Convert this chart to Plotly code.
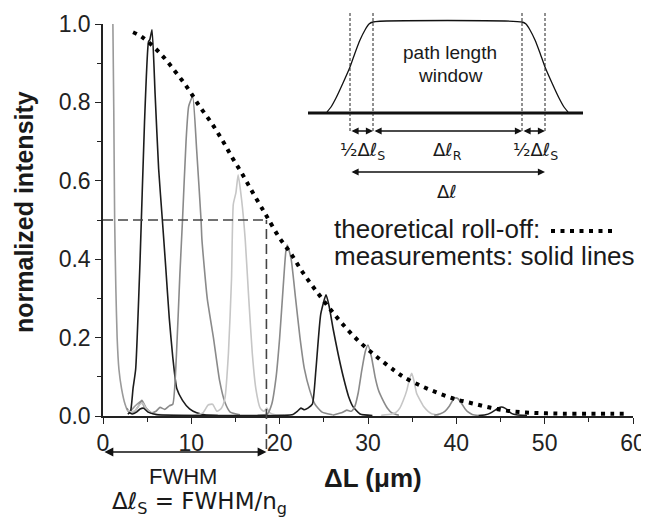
import plotly.graph_objects as go

# ---------------- data ----------------
rolloff_x = [3.4, 4.4, 6.4, 8.1, 9.6, 10.9, 12.3, 13.55, 14.64, 15.8, 16.95, 18.1, 18.7, 19.9,
             21.25, 22.56, 23.9, 25.5, 27.1, 29.0, 31.05, 33.0, 34.0, 36.0, 38.0, 39.9, 41.85,
             43.9, 45.9, 47.9, 49.85, 52.0, 55.0, 57.5, 59.3]
rolloff_y = [0.979, 0.967, 0.927, 0.881, 0.836, 0.791, 0.747, 0.702, 0.659, 0.616, 0.570, 0.526,
             0.503, 0.457, 0.415, 0.368, 0.326, 0.279, 0.235, 0.190, 0.150, 0.116, 0.100, 0.077,
             0.058, 0.043, 0.032, 0.021, 0.013, 0.009, 0.007, 0.006, 0.006, 0.006, 0.006]

peak0_x = [1.12, 1.22, 1.32, 1.45, 1.6, 1.8, 2.1, 2.5, 2.85, 3.2, 3.6, 4.0, 4.35, 4.7, 5.2, 6.0, 7.5]
peak0_y = [1.0, 0.78, 0.5, 0.33, 0.2, 0.12, 0.07, 0.03, 0.012, 0.015, 0.025, 0.033, 0.038, 0.022, 0.01, 0.004, 0.002]

peak1_x = [2.8, 3.1, 3.4, 3.7, 4.2, 4.7, 5.15, 5.3, 5.55, 5.9, 6.3, 6.72, 7.1, 7.5, 7.9, 8.35, 9.0, 9.8, 10.6, 11.5, 13.0]
peak1_y = [0.005, 0.01, 0.07, 0.12, 0.4, 0.75, 0.955, 0.96, 0.985, 0.82, 0.63, 0.5, 0.38, 0.25, 0.15, 0.07, 0.04, 0.018, 0.008, 0.003, 0.001]

peak2_x = [2.7, 3.1, 3.6, 4.0, 4.4, 4.9, 5.5, 6.0, 6.45, 7.0, 7.5, 7.9, 8.3, 8.7, 9.0, 9.4, 9.7,
           10.15, 10.6, 11.1, 11.2, 11.8, 12.5, 13.2, 13.8, 14.4, 15.5]
peak2_y = [0.02, 0.008, 0.012, 0.025, 0.04, 0.02, 0.008, 0.012, 0.022, 0.017, 0.026, 0.03, 0.15, 0.36,
           0.5, 0.7, 0.79, 0.815, 0.68, 0.5, 0.45, 0.3, 0.2, 0.09, 0.035, 0.01, 0.003]

peak3_x = [2.8, 3.2, 3.7, 4.1, 4.5, 5.0, 5.8, 7.0, 9.0, 10.5, 11.3, 11.9, 12.4, 12.9, 13.4, 13.8, 14.2,
           14.55, 14.75, 15.05, 15.3, 15.7, 16.1, 16.5, 16.9, 17.3, 17.8, 18.2, 18.55, 18.9, 19.5, 20.5]
peak3_y = [0.015, 0.01, 0.015, 0.028, 0.033, 0.015, 0.005, 0.003, 0.002, 0.003, 0.008, 0.028, 0.03, 0.012,
           0.02, 0.045, 0.16, 0.35, 0.54, 0.57, 0.615, 0.55, 0.45, 0.3, 0.16, 0.07, 0.02, 0.012, 0.02, 0.008, 0.003, 0.001]

peak4_x = [17.5, 18.6, 19.1, 19.6, 20.0, 20.4, 20.7, 20.87, 21.3, 21.8, 22.3, 22.8, 23.4, 24.0, 24.8, 26.0]
peak4_y = [0.002, 0.005, 0.03, 0.1, 0.2, 0.33, 0.42, 0.436, 0.4, 0.3, 0.2, 0.12, 0.066, 0.03, 0.01, 0.003]

peak5_x = [2.9, 3.3, 3.8, 4.2, 4.6, 5.1, 6.0, 8.0, 20.5, 21.5, 22.0, 22.4, 22.8, 23.2, 23.7, 24.1,
           24.65, 25.25, 25.6, 26.07, 26.6, 27.2, 27.8, 28.3, 29.1, 30.5]
peak5_y = [0.01, 0.005, 0.01, 0.018, 0.02, 0.01, 0.004, 0.002, 0.002, 0.004, 0.012, 0.02, 0.016, 0.02,
           0.03, 0.117, 0.26, 0.309, 0.28, 0.22, 0.16, 0.1, 0.05, 0.024, 0.005, 0.001]

peak6_x = [26.0, 27.0, 27.6, 28.1, 28.5, 28.9, 29.3, 29.7, 30.0, 30.4, 30.8, 31.2, 31.7, 32.2, 32.7, 33.5]
peak6_y = [0.002, 0.008, 0.015, 0.012, 0.024, 0.06, 0.117, 0.165, 0.181, 0.15, 0.1, 0.065, 0.04, 0.02, 0.008, 0.002]

peak7_x = [31.5, 32.7, 33.2, 33.6, 34.0, 34.4, 34.7, 34.95, 35.2, 35.5, 35.9, 36.3, 36.8, 37.2, 38.0]
peak7_y = [0.002, 0.005, 0.01, 0.02, 0.04, 0.066, 0.095, 0.109, 0.09, 0.058, 0.04, 0.024, 0.012, 0.006, 0.002]

peak8_x = [37.5, 38.2, 38.7, 39.2, 39.6, 39.9, 40.2, 40.6, 41.0, 41.4, 41.8, 42.5]
peak8_y = [0.002, 0.006, 0.012, 0.025, 0.04, 0.046, 0.044, 0.032, 0.018, 0.009, 0.004, 0.001]

peak9_x = [42.5, 43.3, 43.9, 44.4, 44.8, 45.1, 45.5, 45.9, 46.3, 46.8, 48.0]
peak9_y = [0.001, 0.003, 0.008, 0.015, 0.021, 0.023, 0.02, 0.013, 0.006, 0.003, 0.001]

peak_colors = ["#9a9a9a", "#1c1c1c", "#8a8a8a", "#c6c6c6", "#8a8a8a",
               "#1c1c1c", "#8a8a8a", "#c6c6c6", "#8a8a8a", "#1c1c1c"]

fwhm_x = 18.5
half_level = 0.5

x_ticks = [0, 10, 20, 30, 40, 50, 60]
y_ticks = [0.0, 0.2, 0.4, 0.6, 0.8, 1.0]

# inset schematic (path-length window), schematic units
win_x = [327, 331, 336, 343, 350, 355, 360, 365, 369, 373, 522, 526, 530, 535, 540, 545, 552, 559, 564, 568]
win_y = [112, 107, 98, 83, 67, 53, 40, 30, 24, 22, 22, 24, 30, 40, 53, 67, 83, 98, 107, 112]
base_x = [308, 583]
base_y = [113, 113]
marks_x = [350, 373, 522, 545]

# ---------------- layout geometry ----------------
OFF = 8                      # page body margin
W, H = 649 - OFF, 520 - OFF
ML, MR, MT, MB = 95, 16, 0, 104
PW, PH = W - ML - MR, H - MT - MB


def py(p):  # reference pixel row -> paper y
    return (H - MB - (p - OFF)) / PH


def px(p):  # reference pixel col -> paper x
    return (p - OFF - ML) / PW


main_top = py(24)
DOTS = "4px,5.5px"

fig = go.Figure()

peaks = [(peak0_x, peak0_y), (peak1_x, peak1_y), (peak2_x, peak2_y), (peak3_x, peak3_y),
         (peak4_x, peak4_y), (peak5_x, peak5_y), (peak6_x, peak6_y), (peak7_x, peak7_y),
         (peak8_x, peak8_y), (peak9_x, peak9_y)]
for (xs, ys), c in zip(peaks, peak_colors):
    fig.add_trace(go.Scatter(x=xs, y=ys, mode="lines",
                             line=dict(color=c, width=1.6, shape="spline", smoothing=0.5),
                             showlegend=False, hoverinfo="skip"))

fig.add_trace(go.Scatter(x=rolloff_x, y=rolloff_y, mode="lines",
                         line=dict(color="#000000", width=4, dash=DOTS, shape="spline"),
                         showlegend=False, hoverinfo="skip"))

# inset traces
fig.add_trace(go.Scatter(x=win_x, y=win_y, mode="lines", xaxis="x2", yaxis="y2",
                         line=dict(color="#111", width=1.3, shape="spline", smoothing=0.6),
                         showlegend=False, hoverinfo="skip"))
fig.add_trace(go.Scatter(x=base_x, y=base_y, mode="lines", xaxis="x2", yaxis="y2",
                         line=dict(color="#111", width=3.2), showlegend=False, hoverinfo="skip"))

shapes = []
for mx in marks_x:
    shapes.append(dict(type="line", xref="x2", yref="y2", x0=mx, x1=mx, y0=13, y1=131,
                       line=dict(color="#222", width=1, dash="3px,2px")))
shapes.append(dict(type="line", xref="x", yref="y", x0=0, x1=fwhm_x, y0=half_level, y1=half_level,
                   line=dict(color="#444", width=1.6, dash="10px,5px")))
shapes.append(dict(type="line", xref="x", yref="paper", x0=fwhm_x, x1=fwhm_x,
                   y0=py(449), y1=half_level * main_top,
                   line=dict(color="#444", width=1.6, dash="10px,5px")))
# dotted-line key after "theoretical roll-off:"
shapes.append(dict(type="line", xref="paper", yref="paper", x0=px(551), x1=px(614),
                   y0=py(231), y1=py(231), line=dict(color="#000", width=4, dash=DOTS)))

ann = []
font_main = "Liberation Sans, Arial, sans-serif"
font_sym = "DejaVu Sans, sans-serif"


def arrow2(x_head, x_tail, y, xr, yr):
    return dict(x=x_head, y=y, ax=x_tail, ay=y, xref=xr, yref=yr, axref=xr, ayref=yr,
                showarrow=True, arrowhead=2, startarrowhead=2, arrowside="end+start",
                arrowsize=1.1, arrowwidth=1.3, arrowcolor="#111", text="", standoff=0, startstandoff=0)


ann.append(arrow2(marks_x[1], marks_x[0], 131, "x2", "y2"))
ann.append(arrow2(marks_x[2], marks_x[1], 131, "x2", "y2"))
ann.append(arrow2(marks_x[3], marks_x[2], 131, "x2", "y2"))
ann.append(arrow2(marks_x[3], marks_x[0], 172, "x2", "y2"))


def txt(x, y, s, size, xr, yr, family=font_main, xanchor="center", angle=0, bold=False):
    return dict(x=x, y=y, xref=xr, yref=yr, text=("<b>%s</b>" % s) if bold else s, showarrow=False,
                xanchor=xanchor, yanchor="middle", textangle=angle,
                font=dict(family=family, size=size, color="#1a1a1a"))


ann.append(txt(450, 52, "path length", 19, "x2", "y2"))
ann.append(txt(450, 75, "window", 19, "x2", "y2"))
ann.append(txt(362, 151, "½Δℓ<sub>S</sub>", 18, "x2", "y2", family=font_sym))
ann.append(txt(447, 151, "Δℓ<sub>R</sub>", 18, "x2", "y2", family=font_sym))
ann.append(txt(535, 151, "½Δℓ<sub>S</sub>", 18, "x2", "y2", family=font_sym))
ann.append(txt(447, 191, "Δℓ", 18, "x2", "y2", family=font_sym))

ann.append(txt(px(332), py(229), "theoretical roll-off:", 26, "paper", "paper", xanchor="left"))
ann.append(txt(px(332), py(256), "measurements: solid lines", 26, "paper", "paper", xanchor="left"))

fwhm_arrow = dict(x=fwhm_x, y=py(452), xref="x", yref="paper", ax=0, ay=0, axref="x", ayref="pixel",
                  showarrow=True, arrowhead=2, startarrowhead=2, arrowside="end+start",
                  arrowsize=1.1, arrowwidth=1.6, arrowcolor="#111", text="", standoff=0, startstandoff=0)
ann.append(fwhm_arrow)
ann.append(txt(px(183), py(477), "FWHM", 22, "paper", "paper"))
ann.append(txt(px(199), py(503), "Δℓ<sub>S</sub> = FWHM/n<sub>g</sub>", 23, "paper", "paper", family=font_sym))

ann.append(txt(px(24), py(212), "normalized intensity", 25, "paper", "paper", angle=-90, bold=True))
ann.append(txt(px(373), py(478), "ΔL (μm)", 26, "paper", "paper", bold=True))

axis_common = dict(showline=True, linecolor="#222", linewidth=1.5, ticks="outside", ticklen=6,
                   tickwidth=1.3, tickcolor="#222", showgrid=False, zeroline=False, automargin=False,
                   tickfont=dict(family=font_main, size=23, color="#222"))

fig.update_layout(
    width=W, height=H, margin=dict(l=ML, r=MR, t=MT, b=MB, autoexpand=False),
    paper_bgcolor="white", plot_bgcolor="white",
    shapes=shapes, annotations=ann,
    xaxis=dict(range=[0, 60], tickvals=x_ticks, ticktext=[str(v) for v in x_ticks],
               ticklabeloverflow="allow",
               minor=dict(dtick=5, ticks="outside", ticklen=4, tickcolor="#222", tickwidth=1.2),
               domain=[0, 1], **axis_common),
    yaxis=dict(range=[0, 1.0], tickvals=y_ticks, ticktext=["%.1f" % v for v in y_ticks],
               minor=dict(dtick=0.1, ticks="outside", ticklen=4, tickcolor="#222", tickwidth=1.2),
               domain=[0, main_top], **axis_common),
    xaxis2=dict(range=[300, 600], domain=[px(300), px(600)], visible=False, anchor="y2", automargin=False),
    yaxis2=dict(range=[200, 8], domain=[py(200), 1.0], visible=False, anchor="x2", automargin=False),
)

fig.write_html("out.html",
               post_script="document.documentElement.style.overflow='hidden';"
                           "document.body.style.overflow='hidden';")
